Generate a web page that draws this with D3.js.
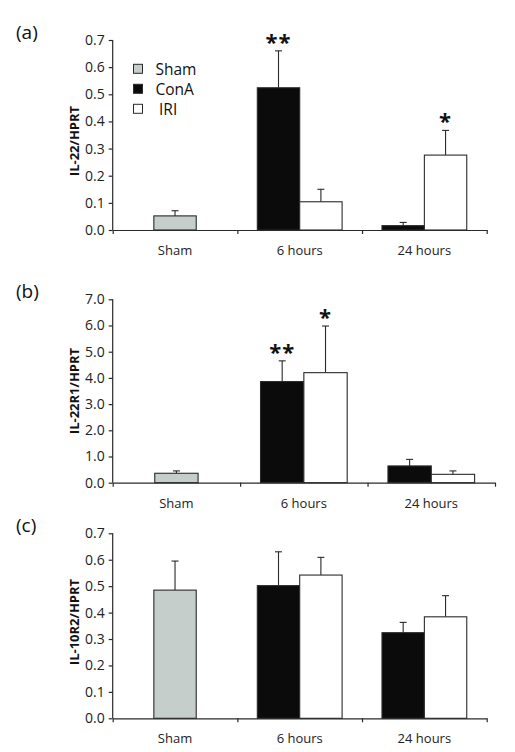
<!DOCTYPE html>
<html><head><meta charset="utf-8">
<script src="https://cdn.jsdelivr.net/npm/d3@7"></script>
<style>
html,body{margin:0;padding:0;background:#fff;}
svg{display:block;font-family:"Open Sans",sans-serif;}
</style></head>
<body>
<svg id="chart" width="515" height="752"></svg>
<script>
// ---- data ----
const categories = ["Sham", "6 hours", "24 hours"];
const seriesNames = ["Sham", "ConA", "IRI"];
const seriesColors = ["#c5cecb", "#0b0b0b", "#ffffff"];

// panel (a) IL-22/HPRT
const aSham = [0.052, null, null];
const aShamErr = [0.019, null, null];
const aConA = [null, 0.524, 0.016];
const aConAErr = [null, 0.136, 0.012];
const aIRI = [null, 0.104, 0.276];
const aIRIErr = [null, 0.046, 0.091];
const aTicks = [0, 0.1, 0.2, 0.3, 0.4, 0.5, 0.6, 0.7];
const aStars = [["ConA", 1, "**"], ["IRI", 2, "*"]];

// panel (b) IL-22R1/HPRT
const bSham = [0.36, null, null];
const bShamErr = [0.09, null, null];
const bConA = [null, 3.86, 0.64];
const bConAErr = [null, 0.79, 0.25];
const bIRI = [null, 4.20, 0.32];
const bIRIErr = [null, 1.78, 0.13];
const bTicks = [0, 1, 2, 3, 4, 5, 6, 7];
const bStars = [["ConA", 1, "**"], ["IRI", 1, "*"]];

// panel (c) IL-10R2/HPRT
const cSham = [0.485, null, null];
const cShamErr = [0.110, null, null];
const cConA = [null, 0.502, 0.324];
const cConAErr = [null, 0.128, 0.039];
const cIRI = [null, 0.542, 0.384];
const cIRIErr = [null, 0.067, 0.080];
const cTicks = [0, 0.1, 0.2, 0.3, 0.4, 0.5, 0.6, 0.7];
const cStars = [];

const svg = d3.select("#chart");
const axisColor = "#2a2a2a";

function panel(opt) {
  const { label, title, top, bottom, right, yMax, ticks, fmt, sham, shamErr, conA, conAErr, iri, iriErr, stars, titleY, legend } = opt;
  const left = 112.7;
  const g = svg.append("g");
  const y = d3.scaleLinear().domain([0, yMax]).range([bottom, top]);
  const xb = d3.scaleBand().domain(categories).range([left, right]).padding(0);
  const bw = xb.bandwidth() * 0.34;

  const rows = [];
  categories.forEach((c, i) => {
    const cx = xb(c) + xb.bandwidth() / 2;
    if (sham[i] != null) rows.push({ s: "Sham", x: cx - bw / 2, v: sham[i], e: shamErr[i], cat: i });
    if (conA[i] != null) rows.push({ s: "ConA", x: cx - bw, v: conA[i], e: conAErr[i], cat: i });
    if (iri[i] != null) rows.push({ s: "IRI", x: cx, v: iri[i], e: iriErr[i], cat: i });
  });
  const color = d3.scaleOrdinal().domain(seriesNames).range(seriesColors);

  // error bars (drawn under bars)
  const eb = g.append("g").attr("stroke", axisColor).attr("stroke-width", 1.1);
  rows.forEach(r => {
    const cx = r.x + bw / 2;
    eb.append("line").attr("x1", cx).attr("x2", cx).attr("y1", y(r.v)).attr("y2", y(r.v + r.e));
    eb.append("line").attr("x1", cx - 3.5).attr("x2", cx + 3.5).attr("y1", y(r.v + r.e)).attr("y2", y(r.v + r.e));
  });

  g.append("g").selectAll("rect").data(rows).join("rect")
    .attr("x", d => d.x).attr("width", bw)
    .attr("y", d => y(d.v)).attr("height", d => y(0) - y(d.v))
    .attr("fill", d => color(d.s))
    .attr("stroke", axisColor).attr("stroke-width", 1.1);

  // stars
  stars.forEach(([s, i, txt]) => {
    const r = rows.find(d => d.s === s && d.cat === i);
    g.append("text").attr("x", r.x + bw / 2).attr("y", y(r.v + r.e) - 1)
      .attr("text-anchor", "middle").attr("font-size", 22).attr("font-weight", "bold")
      .attr("letter-spacing", 1).attr("fill", "#111").text(txt);
  });

  // y axis
  const ya = g.append("g").attr("transform", `translate(${left},0)`)
    .call(d3.axisLeft(y).tickValues(ticks).tickFormat(d3.format(fmt)).tickSize(4).tickPadding(4));
  ya.select(".domain").attr("stroke", axisColor).attr("stroke-width", 1.2).attr("d", `M0,${bottom}V${top}`);
  ya.selectAll(".tick line").attr("stroke", axisColor).attr("stroke-width", 1.2);
  ya.selectAll(".tick text").attr("font-size", 14).attr("fill", "#222").attr("font-family", "Open Sans");

  // x axis
  const xl = d3.scaleLinear().domain([0, categories.length]).range([left, right]);
  const xa = g.append("g").attr("transform", `translate(0,${bottom})`)
    .call(d3.axisBottom(xl).tickValues(d3.range(categories.length + 1)).tickFormat("").tickSize(4).tickSizeOuter(0));
  xa.select(".domain").attr("stroke", axisColor).attr("stroke-width", 1.2);
  xa.selectAll(".tick line").attr("stroke", axisColor).attr("stroke-width", 1.2);
  g.append("g").selectAll("text").data(categories).join("text")
    .attr("x", d => xb(d) + xb.bandwidth() / 2).attr("y", bottom + 25)
    .attr("text-anchor", "middle").attr("font-size", 13).attr("fill", "#222").text(d => d);

  // y title
  g.append("text").attr("transform", `translate(79,${titleY}) rotate(-90)`)
    .attr("text-anchor", "middle").attr("font-size", 13).attr("font-weight", "bold").attr("fill", "#111").text(title);

  // panel label
  g.append("text").attr("x", 16).attr("y", top - 1).attr("font-size", 19).attr("fill", "#111").text(label);

  if (legend) {
    const lg = g.append("g");
    seriesNames.forEach((s, i) => {
      lg.append("rect").attr("x", 133.5).attr("y", 64.3 + i * 20).attr("width", 9).attr("height", 9)
        .attr("fill", color(s)).attr("stroke", axisColor).attr("stroke-width", 1);
      lg.append("text").attr("x", s === "IRI" ? 159 : 155.5).attr("y", 74.5 + i * 20)
        .attr("font-size", 15.5).attr("fill", "#111").text(s);
    });
  }
}

panel({ label: "(a)", title: "IL-22/HPRT", top: 40, bottom: 230, right: 486.7, yMax: 0.7, ticks: aTicks, fmt: ".1f",
  sham: aSham, shamErr: aShamErr, conA: aConA, conAErr: aConAErr, iri: aIRI, iriErr: aIRIErr, stars: aStars, titleY: 141, legend: true });
panel({ label: "(b)", title: "IL-22R1/HPRT", top: 299.3, bottom: 482.7, right: 495, yMax: 7, ticks: bTicks, fmt: ".1f",
  sham: bSham, shamErr: bShamErr, conA: bConA, conAErr: bConAErr, iri: bIRI, iriErr: bIRIErr, stars: bStars, titleY: 391, legend: false });
panel({ label: "(c)", title: "IL-10R2/HPRT", top: 533.3, bottom: 718.3, right: 486.7, yMax: 0.7, ticks: cTicks, fmt: ".1f",
  sham: cSham, shamErr: cShamErr, conA: cConA, conAErr: cConAErr, iri: cIRI, iriErr: cIRIErr, stars: cStars, titleY: 622, legend: false });
</script>
</body></html>
